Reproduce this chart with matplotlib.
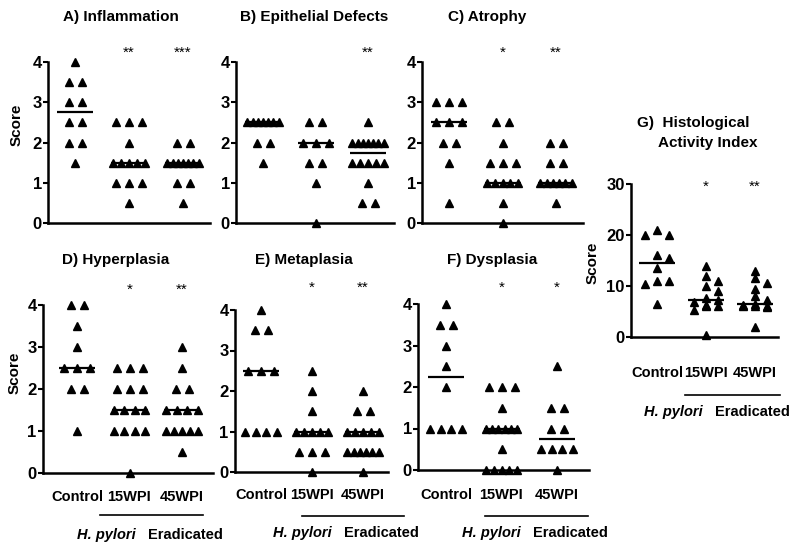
import matplotlib.pyplot as plt
import numpy as np

plt.rcParams['font.family'] = ['Liberation Sans', 'DejaVu Sans']
plt.rcParams['font.weight'] = 'bold'

groups = ["Control", "15WPI", "45WPI"]

# scores, one list per group
inflam_ctrl = [4, 3.5, 3.5, 3, 3, 2.5, 2.5, 2, 2, 1.5]
inflam_15 = [2.5, 2.5, 2.5, 2, 1.5, 1.5, 1.5, 1.5, 1.5, 1, 1, 1, 0.5]
inflam_45 = [2, 2, 1.5, 1.5, 1.5, 1.5, 1.5, 1.5, 1.5, 1, 1, 0.5]
inflam_stars = ["", "**", "***"]

epi_ctrl = [2.5, 2.5, 2.5, 2.5, 2.5, 2.5, 2.5, 2, 2, 1.5]
epi_15 = [2.5, 2.5, 2, 2, 2, 1.5, 1.5, 1, 0]
epi_45 = [2.5, 2, 2, 2, 2, 2, 2, 2, 1.5, 1.5, 1.5, 1.5, 1.5, 1, 0.5, 0.5]
epi_stars = ["", "", "**"]

atro_ctrl = [3, 3, 3, 2.5, 2.5, 2.5, 2, 2, 1.5, 0.5]
atro_15 = [2.5, 2.5, 2, 1.5, 1.5, 1.5, 1, 1, 1, 1, 1, 0.5, 0]
atro_45 = [2, 2, 1.5, 1.5, 1, 1, 1, 1, 1, 1, 0.5]
atro_stars = ["", "*", "**"]

hyper_ctrl = [4, 4, 3.5, 3, 2.5, 2.5, 2.5, 2, 2, 1]
hyper_15 = [2.5, 2.5, 2.5, 2, 2, 2, 1.5, 1.5, 1.5, 1.5, 1, 1, 1, 1, 0]
hyper_45 = [3, 2.5, 2, 2, 1.5, 1.5, 1.5, 1.5, 1, 1, 1, 1, 1, 0.5]
hyper_stars = ["", "*", "**"]

meta_ctrl = [4, 3.5, 3.5, 2.5, 2.5, 2.5, 1, 1, 1, 1]
meta_15 = [2.5, 2, 1.5, 1, 1, 1, 1, 1, 0.5, 0.5, 0.5, 0]
meta_45 = [2, 1.5, 1.5, 1, 1, 1, 1, 1, 0.5, 0.5, 0.5, 0.5, 0.5, 0.5, 0]
meta_stars = ["", "*", "**"]

dys_ctrl = [4, 3.5, 3.5, 3, 2.5, 2, 1, 1, 1, 1]
dys_15 = [2, 2, 2, 1.5, 1, 1, 1, 1, 1, 1, 0.5, 0, 0, 0, 0, 0]
dys_45 = [2.5, 1.5, 1.5, 1, 1, 0.5, 0.5, 0.5, 0.5, 0]
dys_stars = ["", "*", "*"]

hai_ctrl = [21, 20, 20, 16, 15.5, 13.5, 11, 11, 10.3, 6.4]
hai_15 = [14, 12, 11, 10, 9, 7.7, 7.3, 6.8, 6.3, 6, 6, 5.3, 0.3]
hai_45 = [13, 11.5, 10.5, 9.4, 8, 7.2, 6.5, 6.3, 6, 6, 6, 5.8, 2]
hai_stars = ["", "*", "**"]

W, H = 800, 550


def fx(x):
    return x / W


def fy(y):
    return 1 - y / H


def row_offsets(vals, step):
    # equal scores sit side by side, centred on the column (Prism style)
    vals = np.asarray(vals, float)
    offs = np.zeros(len(vals))
    for v in np.unique(vals):
        idx = np.where(vals == v)[0]
        n = len(idx)
        s = step if n <= 3 else min(step, 2.4 * step / (n - 1))
        offs[idx] = (np.arange(n) - (n - 1) / 2) * s
    return offs


def swarm_offsets(vals, step, ypx, dxmin, dymin):
    # simple beeswarm, limited to +-2 steps; overlaps allowed when crowded
    placed, offs = [], []
    for v in vals:
        y = v * ypx
        best, best_hits = 0, None
        for k in [0, 1, -1, 2, -2]:
            x = k * step
            hits = sum(abs(x - px) < dxmin and abs(y - py) < dymin for px, py in placed)
            if best_hits is None or hits < best_hits:
                best, best_hits = x, hits
            if hits == 0:
                break
        placed.append((best, y))
        offs.append(best)
    return np.array(offs)


# box = (left, top, right, bottom) in pixels, g1 = first column px, sp = column spacing px
panels = [
    dict(title=["A) Inflammation"], data=(inflam_ctrl, inflam_15, inflam_45), stars=inflam_stars,
         box=(48, 62, 210, 223), g1=75, sp=54, ymax=4, ticks=[0, 1, 2, 3, 4],
         tpos=(121, 17), stary=53, score=(17, 125)),
    dict(title=["B) Epithelial Defects"], data=(epi_ctrl, epi_15, epi_45), stars=epi_stars,
         box=(236, 62, 394, 223), g1=263, sp=52.5, ymax=4, ticks=[0, 1, 2, 3, 4],
         tpos=(314, 17), stary=53),
    dict(title=["C) Atrophy"], data=(atro_ctrl, atro_15, atro_45), stars=atro_stars,
         box=(422, 62, 583, 223), g1=449, sp=53.5, ymax=4, ticks=[0, 1, 2, 3, 4],
         tpos=(487, 17), stary=53),
    dict(title=["D) Hyperplasia"], data=(hyper_ctrl, hyper_15, hyper_45), stars=hyper_stars,
         box=(43, 305, 213, 473), g1=77, sp=52.5, ymax=4, ticks=[0, 1, 2, 3, 4],
         tpos=(116, 260), stary=290, score=(15, 373), laby=497, bracket=(100, 203, 515),
         hy=535, hx=148),
    dict(title=["E) Metaplasia"], data=(meta_ctrl, meta_15, meta_45), stars=meta_stars,
         box=(235, 310, 388, 472), g1=261, sp=51, ymax=4, ticks=[0, 1, 2, 3, 4],
         tpos=(304, 260), stary=288, laby=495, bracket=(302, 404, 516), hy=533, hx=344),
    dict(title=["F) Dysplasia"], data=(dys_ctrl, dys_15, dys_45), stars=dys_stars,
         box=(418, 304, 589, 470), g1=446, sp=55.5, ymax=4, ticks=[0, 1, 2, 3, 4],
         tpos=(492, 260), stary=288, laby=495, bracket=(485, 588, 516), hy=533, hx=533),
    dict(title=["G)  Histological", "Activity Index"], data=(hai_ctrl, hai_15, hai_45), stars=hai_stars,
         box=(631, 184, 778, 337), g1=657, sp=49, ymax=30, ticks=[0, 10, 20, 30],
         tpos=(705, 123), stary=187, score=(593, 263), laby=373, bracket=(685, 780, 395),
         hy=412, hx=715, swarm=True),
]

fig = plt.figure(figsize=(8, 5.5), dpi=100)

for p in panels:
    l, t, r, b = p['box']
    ax = fig.add_axes([fx(l), fy(b), (r - l) / W, (b - t) / H])
    sp = p['sp']
    ax.set_xlim(1 - (p['g1'] - l) / sp, 1 + (r - p['g1']) / sp)
    ax.set_ylim(0, p['ymax'])
    ypx = (b - t) / p['ymax']
    for i, vals in enumerate(p['data']):
        if p.get('swarm'):
            offs = swarm_offsets(vals, 6, ypx, 9, 7) / sp
        else:
            offs = row_offsets(vals, 13) / sp
        ax.plot(i + 1 + offs, vals, '^', color='black', ms=6, ls='none', clip_on=False, zorder=2)
        ax.hlines(np.median(vals), i + 1 - 18 / sp, i + 1 + 18 / sp, color='black', lw=1.6, zorder=3)
        fig.text(fx(p['g1'] + i * sp), fy(p['stary']), p['stars'][i], ha='center', va='center',
                 fontsize=11, fontweight='normal')

    for s in ['top', 'right']:
        ax.spines[s].set_visible(False)
    for s in ['left', 'bottom']:
        ax.spines[s].set_linewidth(1.8)
    ax.set_yticks(p['ticks'])
    ax.tick_params(axis='y', length=3.5, width=1.5, labelsize=12, pad=1)
    for lab in ax.get_yticklabels():
        lab.set_fontweight('bold')
    ax.set_xticks([])

    if 'laby' in p:
        for i, g in enumerate(groups):
            fig.text(fx(p['g1'] + i * sp), fy(p['laby']), g, ha='center', va='center',
                     fontsize=10.5, fontweight='bold')
        x0, x1, yb = p['bracket']
        fig.add_artist(plt.Line2D([fx(x0), fx(x1)], [fy(yb), fy(yb)], color='black', lw=1.2))
        fig.text(fx(p['hx'] - 12), fy(p['hy']), "H. pylori", ha='right', va='center',
                 fontsize=10.5, fontweight='bold', style='italic')
        fig.text(fx(p['hx']), fy(p['hy']), "Eradicated", ha='left', va='center',
                 fontsize=10.5, fontweight='bold')

    if 'score' in p:
        fig.text(fx(p['score'][0]), fy(p['score'][1]), "Score", rotation=90, ha='center', va='center',
                 fontsize=11, fontweight='bold')

    tx, ty = p['tpos']
    if len(p['title']) == 1:
        fig.text(fx(tx), fy(ty), p['title'][0], ha='center', va='center', fontsize=11, fontweight='bold')
    else:
        fig.text(fx(637), fy(ty), p['title'][0], ha='left', va='center', fontsize=11, fontweight='bold')
        fig.text(fx(658), fy(ty + 20), p['title'][1], ha='left', va='center', fontsize=11, fontweight='bold')

fig.savefig("out.png", dpi=100)
